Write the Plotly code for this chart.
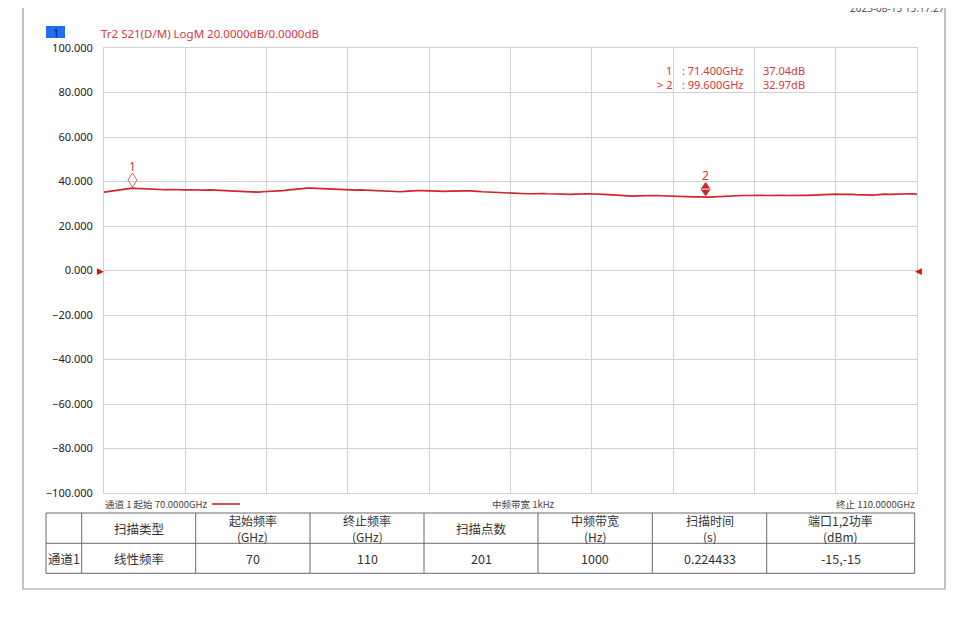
import numpy as np
import plotly.graph_objects as go

# the page puts the figure 8 px in from the window corner
W, H = 960, 611
OFF = 8


def px(x):
    # window pixel -> paper fraction
    return (x - OFF) / W


def py(y):
    return 1 - (y - OFF) / H


# S21 trace, 201 sweep points, 70 -> 110 GHz
s21_db = [
    35.2, 35.5, 35.8, 36.0, 36.2, 36.5, 36.7, 37.04, 36.9, 36.8,
    36.6, 36.5, 36.4, 36.5, 36.4, 36.3, 36.4, 36.3, 36.4, 36.3,
    36.2, 36.3, 36.2, 36.1, 36.0, 36.1, 36.2, 36.1, 36.0, 35.9,
    35.8, 35.7, 35.6, 35.5, 35.4, 35.3, 35.2, 35.3, 35.2, 35.4,
    35.5, 35.3, 35.6, 35.7, 35.9, 36.1, 36.3, 36.6, 36.8, 36.9,
    37.0, 37.0, 36.9, 37.0, 36.9, 36.8, 36.7, 36.5, 36.4, 36.3,
    36.3, 36.2, 36.1, 36.2, 36.1, 36.0, 35.9, 36.0, 35.8, 35.9,
    35.8, 35.6, 35.5, 35.4, 35.6, 35.8, 36.0, 35.9, 35.9, 35.8,
    35.8, 35.7, 35.8, 35.7, 35.6, 35.7, 35.8, 35.7, 35.7, 35.8,
    35.8, 35.8, 35.6, 35.4, 35.3, 35.2, 35.1, 35.0, 34.9, 34.8,
    34.6, 34.5, 34.5, 34.6, 34.5, 34.5, 34.6, 34.5, 34.6, 34.5,
    34.4, 34.3, 34.2, 34.3, 34.2, 34.2, 34.3, 34.2, 34.4, 34.5,
    34.5, 34.4, 34.3, 34.2, 34.1, 34.0, 33.8, 33.6, 33.4, 33.5,
    33.4, 33.5, 33.6, 33.6, 33.5, 33.6, 33.7, 33.6, 33.5, 33.6,
    33.5, 33.4, 33.3, 33.3, 33.2, 33.1, 33.1, 33.0, 32.97, 33.0,
    33.1, 33.2, 33.4, 33.6, 33.6, 33.7, 33.6, 33.7, 33.7, 33.8,
    33.7, 33.8, 33.8, 33.7, 33.8, 33.7, 33.7, 33.8, 33.7, 33.8,
    33.8, 33.9, 33.8, 33.8, 33.9, 34.0, 34.0, 34.1, 34.1, 34.2,
    34.3, 34.2, 34.3, 34.2, 34.2, 34.1, 34.0, 33.9, 33.8, 33.9,
    34.0, 34.2, 34.3, 34.2, 34.3, 34.4, 34.5, 34.4, 34.5, 34.5,
    34.2,
]
f_start, f_stop = 70.0, 110.0
freq_ghz = np.linspace(f_start, f_stop, len(s21_db))  # sweep grid

marker_ids = ["1", "2"]
marker_freq = [71.4, 99.6]
marker_db = [37.04, 32.97]

ytick_vals = [100, 80, 60, 40, 20, 0, -20, -40, -60, -80, -100]

# settings table
table_head = ["", "扫描类型", "起始频率", "终止频率", "扫描点数", "中频带宽", "扫描时间", "端口1,2功率"]
table_unit = ["", "", "(GHz)", "(GHz)", "", "(Hz)", "(s)", "(dBm)"]
table_row = ["通道1", "线性频率", "70", "110", "201", "1000", "0.224433", "-15,-15"]

# table grid in window pixels
col_edges = [46, 81.7, 195.7, 310, 424, 538, 652.3, 766.7, 914.7]
row_edges = [513, 543.3, 573.3]

RED = "#d3232b"
TXT_RED = "#d9363d"
GRID = "#d2d2d2"
TBL = "#6a6a6a"
FONT = "Noto Sans, Noto Sans CJK SC"
CJK = "Noto Sans CJK SC"

fig = go.Figure()

fig.add_trace(go.Scatter(
    x=freq_ghz, y=s21_db, mode="lines",
    line=dict(color=RED, width=1.7),
    hoverinfo="skip", showlegend=False
))

shapes = [
    # outer frame
    dict(type="rect", xref="paper", yref="paper", x0=px(23), x1=px(945),
         y0=py(589), y1=py(3.5), line=dict(color="#9a9a9a", width=1.2)),
    # channel badge
    dict(type="rect", xref="paper", yref="paper", x0=px(46), x1=px(65),
         y0=py(38), y1=py(26), fillcolor="#1f6ff2", line=dict(width=0)),
    # trace colour key in footer
    dict(type="line", xref="paper", yref="paper", x0=px(212), x1=px(240),
         y0=py(504), y1=py(504), line=dict(color="#c8161d", width=1.5)),
]

# table lines
shapes.append(dict(type="rect", xref="paper", yref="paper",
                   x0=px(col_edges[0]), x1=px(col_edges[-1]),
                   y0=py(row_edges[-1]), y1=py(row_edges[0]),
                   line=dict(color=TBL, width=1)))
for xc in col_edges[1:-1]:
    shapes.append(dict(type="line", xref="paper", yref="paper",
                       x0=px(xc), x1=px(xc), y0=py(row_edges[-1]), y1=py(row_edges[0]),
                       line=dict(color=TBL, width=1)))
shapes.append(dict(type="line", xref="paper", yref="paper",
                   x0=px(col_edges[0]), x1=px(col_edges[-1]),
                   y0=py(row_edges[1]), y1=py(row_edges[1]),
                   line=dict(color=TBL, width=1)))

# marker 1: open diamond, marker 2 (active): filled diamond split by a bar
shapes.append(dict(type="path", xref="x", yref="y",
                   xsizemode="pixel", ysizemode="pixel",
                   xanchor=marker_freq[0], yanchor=marker_db[0],
                   path="M0,1 L4.5,8 L0,15 L-4.5,8 Z",
                   line=dict(color="#e06060", width=1), fillcolor="rgba(0,0,0,0)"))
shapes.append(dict(type="path", xref="x", yref="y",
                   xsizemode="pixel", ysizemode="pixel",
                   xanchor=marker_freq[1], yanchor=marker_db[1],
                   path="M0,1.5 L4.5,8 L0,14.5 L-4.5,8 Z",
                   line=dict(color=RED, width=1), fillcolor=RED))
shapes.append(dict(type="path", xref="x", yref="y",
                   xsizemode="pixel", ysizemode="pixel",
                   xanchor=marker_freq[1], yanchor=marker_db[1],
                   path="M-4,8 L4,8",
                   line=dict(color="white", width=1)))

annotations = [
    dict(text="1", xref="paper", yref="paper", x=px(55.5), y=py(32),
         xanchor="center", yanchor="middle", showarrow=False,
         font=dict(family=FONT, size=11, color="#10203a")),
    dict(text="Tr2 S21(D/M) LogM 20.0000dB/0.0000dB", xref="paper", yref="paper",
         x=px(99), y=py(34), xanchor="left", yanchor="middle", showarrow=False,
         font=dict(family=FONT, size=11.5, color=TXT_RED)),
    dict(text="通道 1 起始 70.0000GHz", xref="paper", yref="paper",
         x=px(103), y=py(504), xanchor="left", yanchor="middle", showarrow=False,
         font=dict(family=CJK, size=9.5, color="#444")),
    dict(text="中频带宽 1kHz", xref="paper", yref="paper",
         x=px(523), y=py(504), xanchor="center", yanchor="middle", showarrow=False,
         font=dict(family=CJK, size=9.5, color="#444")),
    dict(text="终止 110.0000GHz", xref="paper", yref="paper",
         x=px(917), y=py(504), xanchor="right", yanchor="middle", showarrow=False,
         font=dict(family=CJK, size=9.5, color="#444")),
    dict(text="2025-08-15 15:17:27", xref="paper", yref="paper",
         x=px(947), y=1, xanchor="right", yanchor="middle", showarrow=False,
         font=dict(family=FONT, size=10, color="#555")),
    # reference level arrows at 0 dB
    dict(text="▶", xref="paper", yref="y", x=px(100), y=0, xanchor="center",
         yanchor="middle", showarrow=False,
         font=dict(family="DejaVu Sans", size=9, color="#d01018")),
    dict(text="◀", xref="paper", yref="y", x=px(918), y=0, xanchor="center",
         yanchor="middle", showarrow=False,
         font=dict(family="DejaVu Sans", size=9, color="#d01018")),
]

for i, (mid, f, v) in enumerate(zip(marker_ids, marker_freq, marker_db)):
    annotations.append(dict(text=mid, x=f, y=v, yshift=22, xanchor="center",
                            showarrow=False,
                            font=dict(family=FONT, size=12, color=TXT_RED)))
    row_y = py(70 + 14 * i)
    prefix = mid if i == 0 else "> " + mid
    annotations.append(dict(text=prefix, xref="paper", yref="paper", x=px(674),
                            y=row_y, xanchor="right", yanchor="middle", showarrow=False,
                            font=dict(family=FONT, size=11, color=TXT_RED)))
    annotations.append(dict(text=f": {f:.3f}GHz", xref="paper", yref="paper",
                            x=px(680), y=row_y, xanchor="left", yanchor="middle",
                            showarrow=False,
                            font=dict(family=FONT, size=11, color=TXT_RED)))
    annotations.append(dict(text=f"{v:.2f}dB", xref="paper", yref="paper",
                            x=px(761), y=row_y, xanchor="left", yanchor="middle",
                            showarrow=False,
                            font=dict(family=FONT, size=11, color=TXT_RED)))

# table text
tfont = dict(family=CJK, size=12.5, color="#333")
hfont = dict(family=CJK, size=12, color="#333")
for j in range(len(table_head)):
    xc = px((col_edges[j] + col_edges[j + 1]) / 2)
    if table_unit[j]:
        annotations.append(dict(text=table_head[j], xref="paper", yref="paper", x=xc,
                                y=py(520), xanchor="center", yanchor="middle",
                                showarrow=False, font=hfont, height=15))
        annotations.append(dict(text=table_unit[j], xref="paper", yref="paper", x=xc,
                                y=py(536), xanchor="center", yanchor="middle",
                                showarrow=False, font=hfont, height=15))
    elif table_head[j]:
        annotations.append(dict(text=table_head[j], xref="paper", yref="paper", x=xc,
                                y=py(528.2), xanchor="center", yanchor="middle",
                                showarrow=False, font=tfont))
    annotations.append(dict(text=table_row[j], xref="paper", yref="paper", x=xc,
                            y=py(558.6), xanchor="center", yanchor="middle",
                            showarrow=False, font=tfont))

fig.update_layout(
    width=W, height=H,
    margin=dict(l=0, r=0, t=0, b=0, pad=0),
    paper_bgcolor="white", plot_bgcolor="white",
    font=dict(family=FONT),
    shapes=shapes, annotations=annotations,
    showlegend=False,
)
fig.update_xaxes(
    domain=[px(104), px(917)], range=[f_start, f_stop],
    tick0=f_start, dtick=4, showticklabels=False,
    showgrid=True, gridcolor=GRID, gridwidth=1,
    showline=True, mirror=True, linecolor=GRID, linewidth=1,
    zeroline=False, automargin=False, fixedrange=True,
)
fig.update_yaxes(
    domain=[py(493), py(48)], range=[-100, 100],
    tickvals=ytick_vals, tickformat=".3f",
    tickfont=dict(family=FONT, size=11, color="#222"),
    ticklabelstandoff=8,
    showgrid=True, gridcolor=GRID, gridwidth=1,
    showline=True, mirror=True, linecolor=GRID, linewidth=1,
    zeroline=False, automargin=False, fixedrange=True,
)

fig.write_html("out.html")
